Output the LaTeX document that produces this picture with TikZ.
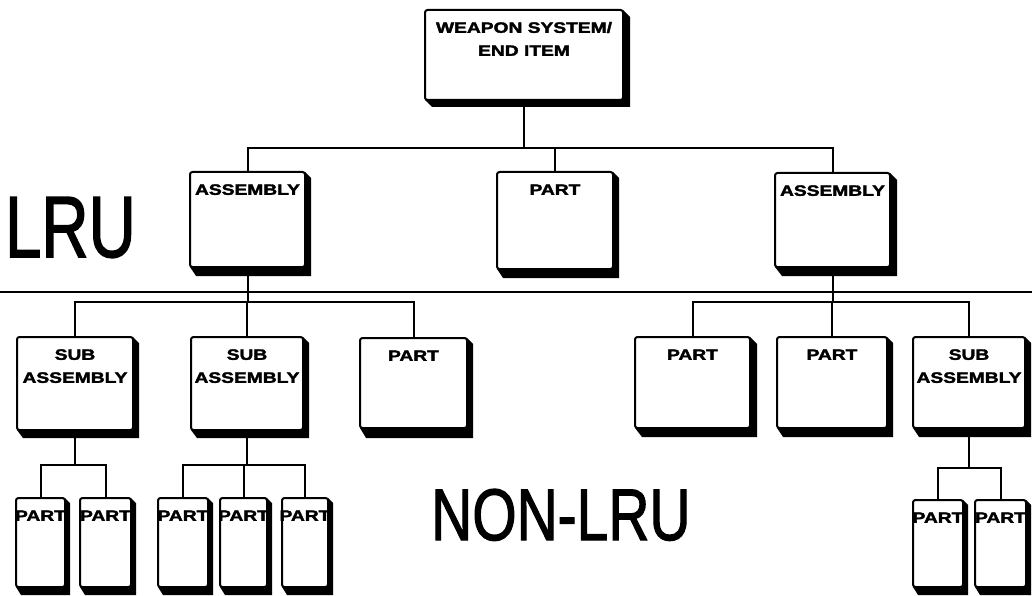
\documentclass[tikz,border=0pt]{standalone}
\usepackage{fontspec}
\setmainfont{Liberation Sans}
\newfontfamily\heavyfont[BoldFeatures={FakeBold=2}]{Liberation Sans}
\newfontfamily\bigfont[FakeBold=1.8]{Liberation Sans}
\usetikzlibrary{calc}
\pgfdeclarelayer{bg}
\pgfsetlayers{bg,main}
\tikzset{
  boxst/.style={draw, line width=2pt, fill=white, rounded corners=2.5pt, inner sep=0pt, outer sep=0pt},
  lbl/.style={anchor=north, inner sep=0pt, font=\heavyfont\bfseries\fontsize{15}{23}\selectfont},
  conn/.style={line width=2pt},
  bigtxt/.style={anchor=base west, inner sep=0pt},
}
\newcommand\mkbox[8]{%
  \node[boxst, minimum width={#4-#2}, minimum height={#5-#3}] (#1) at ({(#2+#4)/2},{(#3+#5)/2}) {};
  \fill (#1.north east) -- ([xshift=#6pt,yshift=-#6pt]#1.north east)
     -- ([xshift=#6pt,yshift=-#7pt]#1.south east)
     -- ([xshift=#6pt,yshift=-#7pt]#1.south west)
     -- (#1.south west) -- (#1.south east) -- cycle;
  \node[lbl] (#1t) at ([yshift=-6.5pt]#1.north) {\scalebox{1.28}[1]{\begin{tabular}[t]{@{}c@{}}#8\end{tabular}}};
}
\begin{document}
\begin{tikzpicture}[x=1pt,y=-1pt]
\useasboundingbox (0,0) rectangle (1032,596);
% boxes
\mkbox{top}{425}{10}{623}{100}{7}{7}{WEAPON SYSTEM/\\END ITEM}
\mkbox{A1}{190}{172}{305}{267}{6}{9}{ASSEMBLY}
\mkbox{P1}{497}{172}{613}{269}{6}{9}{PART}
\mkbox{A2}{775}{173}{890}{267}{7}{9}{ASSEMBLY}
\mkbox{S1}{17}{337}{133}{430}{6}{8}{SUB\\ASSEMBLY}
\mkbox{S2}{191}{337}{303}{430}{6}{8}{SUB\\ASSEMBLY}
\mkbox{P2}{360}{338}{467}{428}{6}{10}{PART}
\mkbox{P3}{635}{337}{750}{428}{7}{9}{PART}
\mkbox{P4}{777}{337}{887}{428}{6}{9}{PART}
\mkbox{S3}{913}{337}{1025}{428}{6}{9}{SUB\\ASSEMBLY}
\mkbox{Q1}{16}{498}{65}{587}{5}{8}{PART}
\mkbox{Q2}{80}{498}{131}{587}{5}{8}{PART}
\mkbox{Q3}{158}{498}{208}{587}{5}{8}{PART}
\mkbox{Q4}{220}{498}{267}{587}{5}{8}{PART}
\mkbox{Q5}{282}{498}{328}{587}{5}{8}{PART}
\mkbox{Q6}{913}{500}{963}{587}{5}{8}{PART}
\mkbox{Q7}{975}{500}{1026}{587}{5}{8}{PART}
% connectors
\coordinate (b0) at (524,148);
\coordinate (b1) at (0,302);
\coordinate (c1) at (0,465);
\coordinate (c2) at (0,468);
\coordinate (dl) at (0,292);
\coordinate (dr) at (1032,292);
\begin{pgfonlayer}{bg}
\draw[conn] (top.south) -- (b0);
\draw[conn] (A1.north) |- (b0) -| (A2.north);
\draw[conn] (P1.north) -- (P1.north |- b0);
\draw[conn] (A1.south) -- (A1.south |- b1);
\draw[conn] (S1.north) |- (P2.north |- b1) -- (P2.north);
\draw[conn] (S2.north) -- (S2.north |- b1);
\draw[conn] (A2.south) -- (A2.south |- b1);
\draw[conn] (P3.north) |- (S3.north |- b1) -- (S3.north);
\draw[conn] (P4.north) -- (P4.north |- b1);
\draw[conn] (S1.south) -- (S1.south |- c1);
\draw[conn] (Q1.north) |- (Q2.north |- c1) -- (Q2.north);
\draw[conn] (S2.south) -- (S2.south |- c1);
\draw[conn] (Q3.north) |- (Q5.north |- c1) -- (Q5.north);
\draw[conn] (Q4.north) -- (Q4.north |- c1);
\draw[conn] (S3.south) -- (S3.south |- c2);
\draw[conn] (Q6.north) |- (Q7.north |- c2) -- (Q7.north);
\end{pgfonlayer}
\draw[line width=2.5pt] (dl) -- (dr);
% big labels
\node[bigtxt] (lru) at (5,257) {\bigfont\fontsize{87}{87}\selectfont\scalebox{0.75}[1]{LRU}};
\node[bigtxt] (nonlru) at (431,540) {\bigfont\fontsize{73}{73}\selectfont\scalebox{0.78}[1]{NON-LRU}};
\end{tikzpicture}
\end{document}
